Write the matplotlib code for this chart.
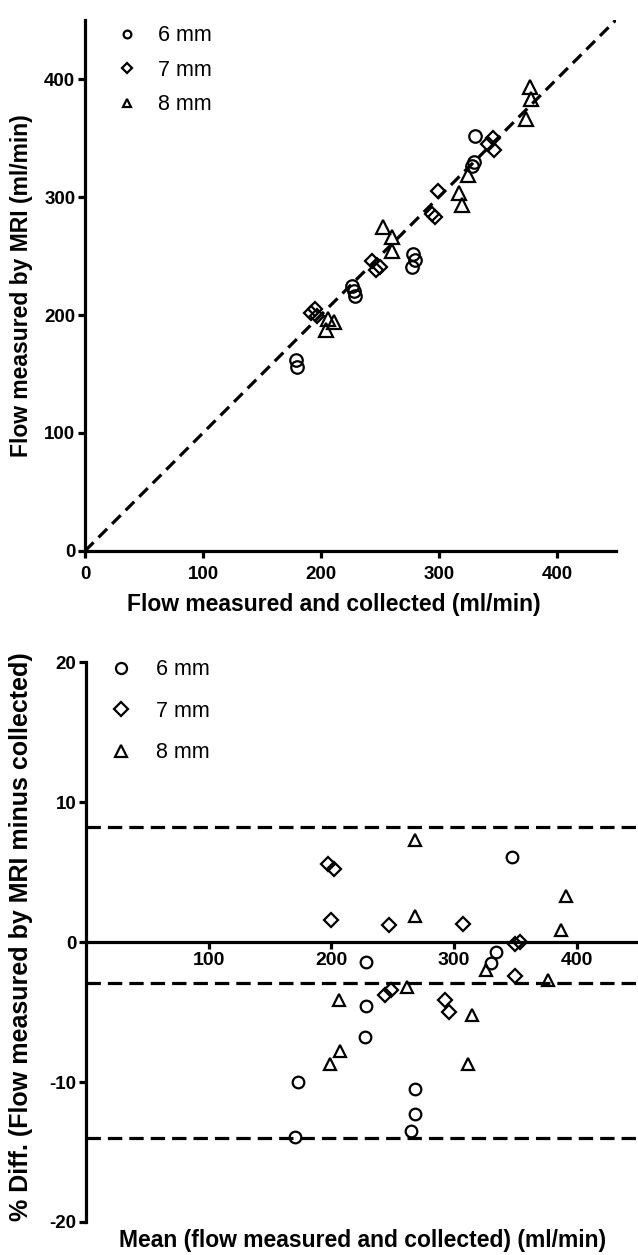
import matplotlib
matplotlib.use("Agg")
import matplotlib.pyplot as plt

plt.rcParams["font.family"] = ["Liberation Sans", "DejaVu Sans"]
plt.rcParams["font.weight"] = "bold"
plt.rcParams["axes.unicode_minus"] = False

# top panel: collected flow (x) vs MRI flow (y), ml/min
coll_6 = [179, 180, 226, 228, 229, 278, 280, 277, 328, 330, 331]
mri_6 = [162, 156, 225, 220, 216, 252, 247, 241, 326, 330, 352]
coll_7 = [192, 195, 197, 243, 247, 250, 294, 297, 299, 342, 346, 347]
mri_7 = [202, 205, 199, 246, 238, 241, 286, 283, 305, 345, 350, 340]
coll_8 = [206, 211, 204, 253, 260, 260, 317, 320, 325, 377, 378, 374]
mri_8 = [197, 194, 187, 275, 266, 254, 303, 293, 319, 393, 383, 366]

# bottom panel: Bland-Altman, mean flow (x) vs % difference (y)
mean_6 = [170, 173, 228, 228, 227, 268, 268, 265, 347, 334, 330]
diff_6 = [-13.9, -10.0, -1.45, -4.6, -6.8, -10.5, -12.3, -13.5, 6.1, -0.7, -1.5]
mean_7 = [197, 202, 200, 247, 244, 249, 293, 296, 307, 350, 354, 350]
diff_7 = [5.6, 5.2, 1.6, 1.2, -3.8, -3.4, -4.1, -5.0, 1.3, -0.1, 0.0, -2.4]
mean_8 = [268, 268, 262, 206, 207, 199, 315, 311, 326, 377, 387, 391]
diff_8 = [7.3, 1.9, -3.2, -4.1, -7.8, -8.7, -5.2, -8.7, -2.0, -2.7, 0.9, 3.3]

bias = -2.9
limits = [8.2, -14.0]

labels = ["6 mm", "7 mm", "8 mm"]
markers = ["o", "D", "^"]
sizes = [9.0, 7.5, 9.5]

fig = plt.figure(figsize=(6.38, 12.55), dpi=100)
ax1 = fig.add_axes([0.1332, 0.561, 0.832, 0.423])
ax2 = fig.add_axes([0.135, 0.0263, 0.865, 0.446])

spine_w = 2.3
for ax in (ax1, ax2):
    for side in ("top", "right"):
        ax.spines[side].set_visible(False)
    for side in ("left", "bottom"):
        ax.spines[side].set_linewidth(spine_w)
    ax.tick_params(width=spine_w, length=5)

leg_font = {"weight": "normal", "size": 15.5}

# --- top panel ---
xs = [coll_6, coll_7, coll_8]
ys = [mri_6, mri_7, mri_8]
for x, y, m, ms, lab in zip(xs, ys, markers, sizes, labels):
    ax1.plot(x, y, linestyle="none", marker=m, markersize=ms,
             markerfacecolor="none", markeredgecolor="black",
             markeredgewidth=1.6, label=lab, clip_on=False)
ax1.plot([0, 450], [0, 450], color="black", lw=2.3,
         linestyle=(0, (3.8, 2.2)), zorder=1)
ax1.set_xlim(0, 450)
ax1.set_ylim(0, 450)
ax1.set_xticks([0, 100, 200, 300, 400])
ax1.set_yticks([0, 100, 200, 300, 400])
ax1.tick_params(axis="x", labelsize=13.5, pad=6)
ax1.tick_params(axis="y", labelsize=13.5, pad=2)
ax1.set_xlabel("Flow measured and collected (ml/min)", fontsize=16.5,
               fontweight="bold", labelpad=5)
ax1.xaxis.set_label_coords(0.469, -0.08)
ax1.set_ylabel("Flow measured by MRI (ml/min)", fontsize=16.5,
               fontweight="bold")
ax1.yaxis.set_label_coords(-0.097, 0.5)
ax1.legend(loc="upper left", bbox_to_anchor=(0.058, 0.99), frameon=False,
           prop=leg_font, markerscale=0.62, handlelength=1.0,
           handletextpad=0.95, labelspacing=0.62, borderpad=0,
           borderaxespad=0)

# --- bottom panel ---
xs = [mean_6, mean_7, mean_8]
ys = [diff_6, diff_7, diff_8]
for x, y, m, ms, lab in zip(xs, ys, markers, sizes, labels):
    ax2.plot(x, y, linestyle="none", marker=m, markersize=ms * 0.93,
             markerfacecolor="none", markeredgecolor="black",
             markeredgewidth=1.6, label=lab, zorder=3)
ax2.axhline(bias, color="black", lw=2.3, linestyle=(0, (4.5, 2.2)), zorder=2)
for lim in limits:
    ax2.axhline(lim, color="black", lw=2.3, linestyle=(0, (4.5, 2.2)), zorder=2)
ax2.spines["bottom"].set_position(("data", 0))
ax2.set_xlim(0, 450)
ax2.set_ylim(-20, 20)
ax2.set_xticks([100, 200, 300, 400])
ax2.set_yticks([-20, -10, 0, 10, 20])
ax2.tick_params(axis="x", labelsize=14, pad=2)
ax2.tick_params(axis="y", labelsize=13.5, pad=2)
ax2.set_xlabel("Mean (flow measured and collected) (ml/min)", fontsize=16.5,
               fontweight="bold")
ax2.xaxis.set_label_coords(0.5, -0.012)
ax2.set_ylabel("% Diff. (Flow measured by MRI minus collected)", fontsize=18,
               fontweight="bold")
ax2.yaxis.set_label_coords(-0.097, 0.51)
ax2.legend(loc="upper left", bbox_to_anchor=(0.044, 1.005), frameon=False,
           prop=leg_font, markerscale=0.95, handlelength=1.0,
           handletextpad=1.1, labelspacing=0.95, borderpad=0,
           borderaxespad=0)

fig.savefig("out.png", dpi=100)
